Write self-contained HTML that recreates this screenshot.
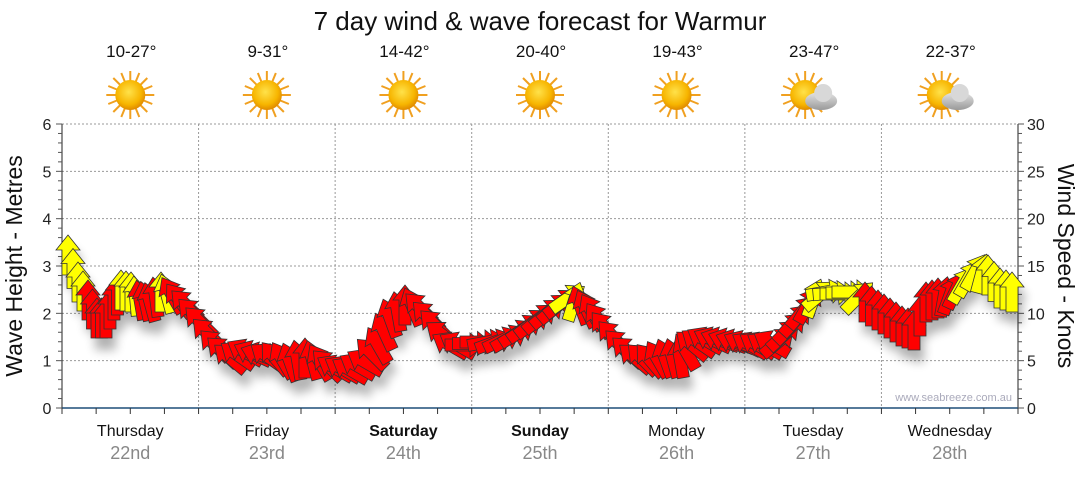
<!DOCTYPE html>
<html><head><meta charset="utf-8"><style>
body{margin:0;background:#fff;width:1080px;height:475px;overflow:hidden;font-family:"Liberation Sans",sans-serif}
svg text{font-family:"Liberation Sans",sans-serif}
</style></head><body>
<svg id="s" width="1080" height="475" xmlns="http://www.w3.org/2000/svg">
<defs>
<radialGradient id="sun" cx="45%" cy="40%" r="60%"><stop offset="0" stop-color="#ffe24a"/><stop offset="0.7" stop-color="#f7b500"/><stop offset="1" stop-color="#e08a00"/></radialGradient>
<linearGradient id="cl" x1="0" y1="0" x2="0" y2="1"><stop offset="0" stop-color="#e4e4e4"/><stop offset="1" stop-color="#9a9a9a"/></linearGradient>
<filter id="sh" x="-50%" y="-50%" width="200%" height="200%"><feGaussianBlur stdDeviation="5"/></filter>
<path id="ar" d="M0,-20 L12,-5 L6,-5 L6,20 L-6,20 L-6,-5 L-12,-5 Z"/>
<g id="sunI"><g stroke="#f0a020" stroke-width="2">
<line x1="-24" y1="0" x2="24" y2="0"/><line x1="0" y1="-24" x2="0" y2="24"/>
<line x1="-17" y1="-17" x2="17" y2="17"/><line x1="-17" y1="17" x2="17" y2="-17"/>
<line x1="-22" y1="-9" x2="22" y2="9"/><line x1="-22" y1="9" x2="22" y2="-9"/>
<line x1="-9" y1="-22" x2="9" y2="22"/><line x1="9" y1="-22" x2="-9" y2="22"/></g>
<circle r="15" fill="url(#sun)"/></g>
</defs>
<text x="540" y="30" font-size="26" text-anchor="middle" fill="#111">7 day wind &amp; wave forecast for Warmur</text>
<g id="grid" stroke="#999" stroke-dasharray="2,2" stroke-width="1"></g>
<g id="axes"></g>
<g id="shadows" filter="url(#sh)" opacity="0.3"></g>
<g id="arrows" stroke="#333" stroke-width="0.8"></g>
<text x="1012" y="401" font-size="11" fill="#aab" text-anchor="end">www.seabreeze.com.au</text>
<text transform="translate(22,266) rotate(-90)" font-size="23" text-anchor="middle" fill="#111">Wave Height - Metres</text>
<text transform="translate(1058,266) rotate(90)" font-size="23" text-anchor="middle" fill="#111">Wind Speed - Knots</text>
</svg>
<script>
var NS="http://www.w3.org/2000/svg",s=document.getElementById('s');
function el(p,t,a,txt){var e=document.createElementNS(NS,t);for(var k in a)e.setAttribute(k,a[k]);if(txt!=null)e.textContent=txt;p.appendChild(e);return e;}
var L=62,R=1018,T=124,B=408,g=document.getElementById('grid'),ax=document.getElementById('axes');
for(var i=1;i<=6;i++){var y=B-i*(B-T)/6;el(g,'line',{x1:L,x2:R,y1:y,y2:y});}
var dw=(R-L)/7;
for(var d=1;d<7;d++){var x=L+d*dw;el(g,'line',{x1:x,x2:x,y1:T,y2:B});}
el(ax,'line',{x1:L,x2:L,y1:T,y2:B,stroke:'#222'});
el(ax,'line',{x1:R,x2:R,y1:T,y2:B,stroke:'#222'});
for(var i=0;i<=30;i++){var y=B-i*(B-T)/30;el(ax,'line',{x1:L-(i%5?4:6),x2:L,y1:y,y2:y,stroke:'#555'});}
for(var i=0;i<=6;i++){var y=B-i*(B-T)/6;el(ax,'text',{x:47,y:y+6,'font-size':16,'text-anchor':'middle',fill:'#222'},i);}
for(var i=0;i<=30;i++){var y=B-i*(B-T)/30;el(ax,'line',{x1:R,x2:R+(i%5?4:6),y1:y,y2:y,stroke:'#555'});}
for(var i=0;i<=30;i+=5){var y=B-i*(B-T)/30;el(ax,'text',{x:1027,y:y+6,'font-size':16,fill:'#222'},i);}
el(ax,'line',{x1:L,x2:R,y1:B,y2:B,stroke:'#1f4e79','stroke-width':1.5});
for(var i=0;i<=28;i++){var x=L+i*dw/4;el(ax,'line',{x1:x,x2:x,y1:B,y2:B+6,stroke:'#333'});}
var days=['Thursday','Friday','Saturday','Sunday','Monday','Tuesday','Wednesday'],dates=['22nd','23rd','24th','25th','26th','27th','28th'],
temps=['10-27°','9-31°','14-42°','20-40°','19-43°','23-47°','22-37°'];
for(var d=0;d<7;d++){var cx=L+(d+0.5)*dw;
el(s,'text',{x:cx,y:436,'font-size':16,'text-anchor':'middle',fill:'#111','font-weight':(d==2||d==3)?'bold':'normal'},days[d]);
el(s,'text',{x:cx,y:459,'font-size':18,'text-anchor':'middle',fill:'#888'},dates[d]);
el(s,'text',{x:cx+1,y:57,'font-size':17,'text-anchor':'middle',fill:'#111'},temps[d]);
var sx=d>=5?cx-8:cx;el(s,'use',{href:'#sunI',x:sx,y:95});
if(d>=5){el(s,'ellipse',{cx:cx+8,cy:101,rx:16,ry:9,fill:'url(#cl)'});el(s,'circle',{cx:cx+10,cy:93,r:9,fill:'#d8d8d8'});}
}
var K=[[68,255,0,'Y'],[78,282,0,'Y'],[88,300,0,'R'],[97,318,0,'R'],[106,318,0,'R'],[114,300,0,'R'],[121,290,0,'Y'],[131,292,0,'Y'],[140,300,-10,'R'],[150,302,-15,'R'],[161,292,0,'Y'],[172,295,-30,'R'],[186,305,-45,'R'],[200,322,-45,'R'],[215,345,-45,'R'],[230,358,-50,'R'],[245,352,-60,'R'],[260,355,-70,'R'],[275,358,-40,'R'],[290,362,-20,'R'],[305,358,0,'R'],[320,362,-30,'R'],[335,368,-60,'R'],[350,370,-60,'R'],[365,362,-60,'R'],[378,345,-30,'R'],[390,318,-20,'R'],[405,305,0,'R'],[420,308,-45,'R'],[435,325,-45,'R'],[450,345,-60,'R'],[465,345,90,'R'],[480,342,90,'R'],[495,342,70,'R'],[510,338,60,'R'],[525,328,55,'R'],[540,318,50,'R'],[555,308,50,'R'],[568,298,55,'Y'],[580,305,-20,'R'],[592,312,-30,'R'],[605,328,-40,'R'],[620,345,-45,'R'],[635,358,-50,'R'],[650,360,-40,'R'],[665,358,-20,'R'],[680,358,-10,'R'],[692,345,-50,'R'],[705,340,-60,'R'],[720,340,-70,'R'],[735,342,-70,'R'],[750,345,-60,'R'],[765,345,-60,'R'],[778,342,50,'R'],[790,328,45,'R'],[802,312,40,'R'],[814,298,20,'Y'],[826,292,80,'Y'],[840,294,90,'Y'],[852,292,90,'Y'],[865,302,0,'R'],[878,310,0,'R'],[890,318,0,'R'],[902,326,0,'R'],[914,330,0,'R'],[926,302,0,'R'],[938,298,0,'R'],[950,295,20,'R'],[962,285,30,'Y'],[975,272,30,'Y'],[988,275,0,'Y'],[1000,288,0,'Y'],[1012,292,0,'Y']];
var A=document.getElementById('arrows'),S=document.getElementById('shadows');
for(var i=0;i<K.length;i++){var k=K[i];
el(S,'use',{href:'#ar',transform:'translate('+(k[0]+4)+','+(k[1]+12)+') rotate('+k[2]+')',fill:'#000',stroke:'none'});
var n=i<K.length-1?2:1;
for(var j=0;j<n;j++){var x=k[0],y=k[1],a=k[2],c=k[3];if(j){var q=K[i+1];x=(k[0]+q[0])/2;y=(k[1]+q[1])/2;a=(k[2]+q[2])/2;if(Math.abs(k[2]-q[2])>90)a=k[2];}
el(A,'use',{href:'#ar',transform:'translate('+x+','+y+') rotate('+a+')',fill:c=='Y'?'#ffff00':'#ff0000'});}
}
</script>
</body></html>
